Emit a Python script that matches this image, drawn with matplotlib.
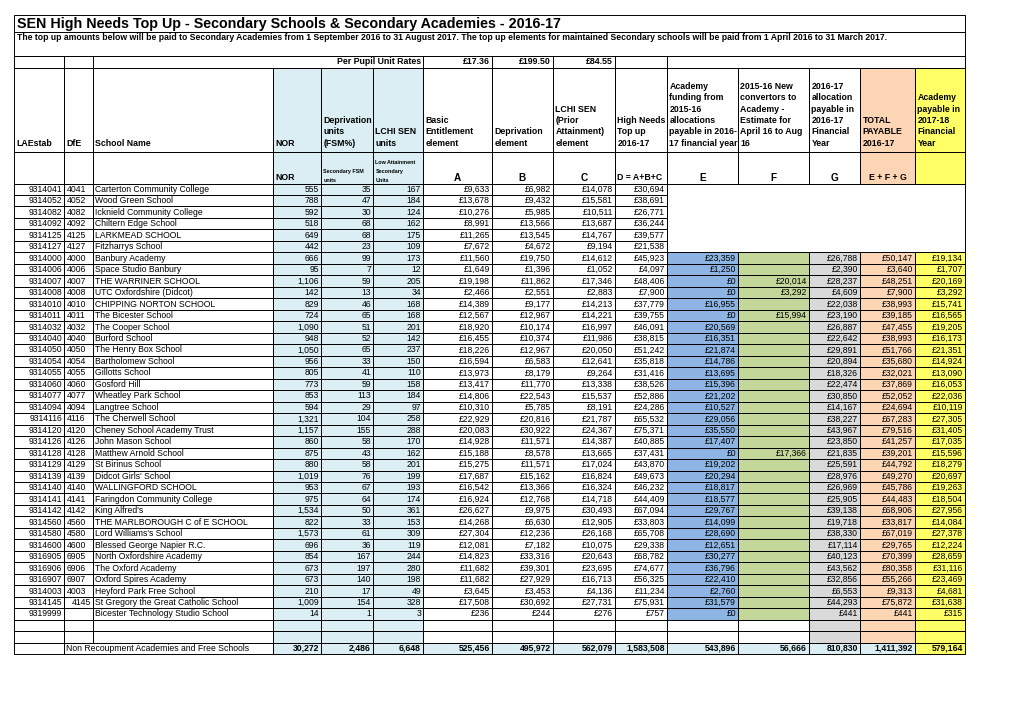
import matplotlib
matplotlib.use('Agg')
import matplotlib.pyplot as plt
from matplotlib.patches import Rectangle

plt.rcParams['font.family'] = ['Liberation Sans', 'DejaVu Sans']

title = "SEN High Needs Top Up - Secondary Schools & Secondary Academies - 2016-17"
subtitle = ("The top up amounts below will be paid to Secondary Academies from 1 September 2016 to 31 August 2017. "
            "The top up elements for maintained Secondary schools will be paid from 1 April 2016 to 31 March 2017.")

laestab = [9314041, 9314052, 9314082, 9314092, 9314125, 9314127, 9314000, 9314006, 9314007, 9314008,
           9314010, 9314011, 9314032, 9314040, 9314050, 9314054, 9314055, 9314060, 9314077, 9314094,
           9314116, 9314120, 9314126, 9314128, 9314129, 9314139, 9314140, 9314141, 9314142, 9314560,
           9314580, 9314600, 9316905, 9316906, 9316907, 9314003, 9314145, 9319999]
# text codes are left aligned in the sheet, the one stored as a number is right aligned
dfe = ['4041', '4052', '4082', '4092', '4125', '4127', '4000', '4006', '4007', '4008',
       '4010', '4011', '4032', '4040', '4050', '4054', '4055', '4060', '4077', '4094',
       '4116', '4120', '4126', '4128', '4129', '4139', '4140', '4141', '4142', '4560',
       '4580', '4600', '6905', '6906', '6907', '4003', 4145, '']
school = ["Carterton Community College", "Wood Green School", "Icknield Community College",
          "Chiltern Edge School", "LARKMEAD SCHOOL", "Fitzharrys School", "Banbury Academy",
          "Space Studio Banbury", "THE WARRINER SCHOOL", "UTC Oxfordshire (Didcot)",
          "CHIPPING NORTON SCHOOL", "The Bicester School", "The Cooper School", "Burford School",
          "The Henry Box School", "Bartholomew School", "Gillotts School", "Gosford Hill",
          "Wheatley Park School", "Langtree School", "The Cherwell School", "Cheney School Academy Trust",
          "John Mason School", "Matthew Arnold School", "St Birinus School", "Didcot Girls' School",
          "WALLINGFORD SCHOOL", "Faringdon Community College", "King Alfred's",
          "THE MARLBOROUGH C of E SCHOOL", "Lord Williams's School", "Blessed George Napier R.C.",
          "North Oxfordshire Academy", "The Oxford Academy", "Oxford Spires Academy",
          "Heyford Park Free School", "St Gregory the Great Catholic School",
          "Bicester Technology Studio School"]
nor = [555, 788, 592, 518, 649, 442, 666, 95, 1106, 142, 829, 724, 1090, 948, 1050, 956, 805, 773, 853,
       594, 1321, 1157, 860, 875, 880, 1019, 953, 975, 1534, 822, 1573, 696, 854, 673, 673, 210, 1009, 14]
fsm_units = [35, 47, 30, 68, 68, 23, 99, 7, 59, 13, 46, 65, 51, 52, 65, 33, 41, 59, 113, 29, 104, 155,
             58, 43, 58, 76, 67, 64, 50, 33, 61, 36, 167, 197, 140, 17, 154, 1]
lchi_units = [167, 184, 124, 162, 175, 109, 173, 12, 205, 34, 168, 168, 201, 142, 237, 150, 110, 158,
              184, 97, 258, 288, 170, 162, 201, 199, 193, 174, 361, 153, 309, 119, 244, 280, 198, 49, 328, 3]
basic_a = [9633, 13678, 10276, 8991, 11265, 7672, 11560, 1649, 19198, 2466, 14389, 12567, 18920, 16455,
           18226, 16594, 13973, 13417, 14806, 10310, 22929, 20083, 14928, 15188, 15275, 17687, 16542,
           16924, 26627, 14268, 27304, 12081, 14823, 11682, 11682, 3645, 17508, 236]
depriv_b = [6982, 9432, 5985, 13566, 13545, 4672, 19750, 1396, 11862, 2551, 9177, 12967, 10174, 10374,
            12967, 6583, 8179, 11770, 22543, 5785, 20816, 30922, 11571, 8578, 11571, 15162, 13366,
            12768, 9975, 6630, 12236, 7182, 33316, 39301, 27929, 3453, 30692, 244]
lchi_c = [14078, 15581, 10511, 13687, 14767, 9194, 14612, 1052, 17346, 2883, 14213, 14221, 16997, 11986,
          20050, 12641, 9264, 13338, 15537, 8191, 21787, 24367, 14387, 13665, 17024, 16824, 16324,
          14718, 30493, 12905, 26168, 10075, 20643, 23695, 16713, 4136, 27731, 276]
topup_d = [30694, 38691, 26771, 36244, 39577, 21538, 45923, 4097, 48406, 7900, 37779, 39755, 46091, 38815,
           51242, 35818, 31416, 38526, 52886, 24286, 65532, 75371, 40885, 37431, 43870, 49673, 46232,
           44409, 67094, 33803, 65708, 29338, 68782, 74677, 56325, 11234, 75931, 757]
acad_e = [None] * 6 + [23359, 1250, 0, 0, 16955, 0, 20569, 16351, 21874, 14786, 13695, 15396, 21202,
                       10527, 29056, 35550, 17407, 0, 19202, 20294, 18817, 18577, 29767, 14099, 28690,
                       12651, 30277, 36796, 22410, 2760, 31579, 0]
conv_f = [None] * 8 + [20014, 3292, None, 15994] + [None] * 11 + [17366] + [None] * 14
alloc_g = [None] * 6 + [26788, 2390, 28237, 4609, 22038, 23190, 26887, 22642, 29891, 20894, 18326, 22474,
                        30850, 14167, 38227, 43967, 23850, 21835, 25591, 28976, 26969, 25905, 39138,
                        19718, 38330, 17114, 40123, 43562, 32856, 6553, 44293, 441]
total_payable = [None] * 6 + [50147, 3640, 48251, 7900, 38993, 39185, 47455, 38993, 51766, 35680, 32021,
                              37869, 52052, 24694, 67283, 79516, 41257, 39201, 44792, 49270, 45786, 44483,
                              68906, 33817, 67019, 29765, 70399, 80358, 55266, 9313, 75872, 441]
acad_1718 = [None] * 6 + [19134, 1707, 20169, 3292, 15741, 16565, 19205, 16173, 21351, 14924, 13090,
                          16053, 22036, 10119, 27305, 31405, 17035, 15596, 18279, 20697, 19263, 18504,
                          27956, 14084, 27378, 12224, 28659, 31116, 23469, 4681, 31638, 315]
totals = [30272, 2486, 6648, 525456, 495972, 562079, 1583508, 543896, 56666, 810830, 1411392, 579164]
total_label = "Non Recoupment Academies and Free Schools"
unit_rates = ['£17.36', '£199.50', '£84.55']

headers = [["LAEstab"], ["DfE"], ["School Name"], ["NOR"], ["Deprivation", "units", "(FSM%)"],
           ["LCHI SEN", "units"], ["Basic", "Entitlement", "element"], ["Deprivation", "element"],
           ["LCHI SEN", "(Prior", "Attainment)", "element"], ["High Needs", "Top up", "2016-17"],
           ["Academy", "funding from", "2015-16", "allocations", "payable in 2016-", "17 financial year"],
           ["2015-16 New", "convertors to", "Academy -", "Estimate for", "April 16 to Aug", "16"],
           ["2016-17", "allocation", "payable in", "2016-17", "Financial", "Year"],
           ["TOTAL", "PAYABLE", "2016-17"], ["Academy", "payable in", "2017-18", "Financial", "Year"]]
sub_headers = ["", "", "", "NOR", "", "", "A", "B", "C", "D = A+B+C", "E", "F", "G", "E + F + G", ""]

# layout (pixels)
xs = [14, 64, 93, 273, 321, 373, 423, 492, 553, 615, 667, 738, 809, 860, 915, 965]
rh = 11.48
y_data = 183.5
LB, BLUE, GREEN, GREY, PEACH, YEL = '#DAEEF3', '#8DB4E2', '#C4D79B', '#D9D9D9', '#FCD5B4', '#FFFF66'
FS = 6.2
HFS = 6.3

fig = plt.figure(figsize=(10.2, 7.21), dpi=100)
ax = fig.add_axes([0, 0, 1, 1])
ax.set_xlim(0, 1020)
ax.set_ylim(721, 0)
ax.axis('off')


def cell(c0, c1, y0, y1, fc='white'):
    ax.add_patch(Rectangle((xs[c0], y0), xs[c1] - xs[c0], y1 - y0, facecolor=fc,
                           edgecolor='black', lw=0.7))


def txt(c, y, s, ha='right', **kw):
    if ha == 'right':
        x = xs[c + 1] - 2
    elif ha == 'left':
        x = xs[c] + 2.5
    else:
        x = (xs[c] + xs[c + 1]) / 2
    ax.text(x, y, s, ha=ha, va='center', fontsize=kw.pop('fontsize', FS), **kw)


def money(v):
    return '' if v is None else '£{:,}'.format(v)


# title block
ax.add_patch(Rectangle((14, 15), 951, 17.3, facecolor='white', edgecolor='black', lw=0.7))
ax.add_patch(Rectangle((14, 32.3), 951, 23.7, facecolor='white', edgecolor='black', lw=0.7))
ax.text(17, 24.2, title, fontsize=10.3, fontweight='bold', va='center')
ax.text(17, 37.5, subtitle, fontsize=6.25, fontweight='bold', va='center')

# unit rate row
y0, y1 = 56, 68
for c0, c1 in [(0, 1), (1, 2), (2, 6), (6, 7), (7, 8), (8, 9), (9, 10), (10, 15)]:
    cell(c0, c1, y0, y1)
ax.text(xs[6] - 2, 62, "Per Pupil Unit Rates", ha='right', va='center', fontsize=HFS, fontweight='bold')
for k, r in enumerate(unit_rates):
    txt(6 + k, 62, r, fontsize=HFS, fontweight='bold')

col_fill = ['white'] * 3 + [LB] * 3 + ['white'] * 4 + [BLUE, GREEN, GREY, PEACH, YEL]
head_fill = ['white'] * 3 + [LB] * 3 + ['white'] * 7 + [PEACH, YEL]

# header rows
for c in range(15):
    cell(c, c + 1, 68, 152, head_fill[c])
    cell(c, c + 1, 152, y_data, head_fill[c])
    lines = headers[c]
    for k, line in enumerate(reversed(lines)):
        txt(c, 143.3 - k * 11.35, line, ha='left', fontsize=HFS, fontweight='bold')
    s = sub_headers[c]
    if s:
        if c in (3, 9):
            txt(c, 178, s, ha='left', fontsize=HFS, fontweight='bold')
        else:
            txt(c, 178, s, ha='center', fontsize=7.2 if len(s) == 1 else HFS, fontweight='bold')
for k, line in enumerate(reversed(["Secondary FSM", "units"])):
    txt(4, 180 - k * 8.6, line, ha='left', fontsize=3.9, fontweight='bold')
for k, line in enumerate(reversed(["Low Attainment", "Secondary", "Units"])):
    txt(5, 180 - k * 8.6, line, ha='left', fontsize=3.9, fontweight='bold')

# data rows
n = len(school)
for i in range(n):
    t = y_data + i * rh
    yc = t + rh / 2
    last = 15 if acad_e[i] is not None else 10
    for c in range(last):
        cell(c, c + 1, t, t + rh, col_fill[c])
    vals = [str(laestab[i]), dfe[i], school[i], f'{nor[i]:,}', f'{fsm_units[i]:,}', f'{lchi_units[i]:,}',
            money(basic_a[i]), money(depriv_b[i]), money(lchi_c[i]), money(topup_d[i]),
            money(acad_e[i]), money(conv_f[i]), money(alloc_g[i]), money(total_payable[i]),
            money(acad_1718[i])]
    for c, v in enumerate(vals[:last]):
        if c == 1:
            txt(c, yc, str(v), ha='right' if isinstance(v, int) else 'left')
        elif c == 2:
            txt(c, yc, v, ha='left')
        else:
            txt(c, yc, v)

# blank block beside maintained schools
n_maint = sum(v is None for v in acad_e)
cell(10, 15, y_data, y_data + n_maint * rh)

# two empty rows
blank_fill = ['white'] * 3 + [LB] * 3 + ['white'] * 6 + [GREY, PEACH, YEL]
for j in range(2):
    t = y_data + (n + j) * rh
    for c in range(15):
        cell(c, c + 1, t, t + rh, blank_fill[c])

# totals row
t = y_data + (n + 2) * rh
yc = t + rh / 2
cell(0, 1, t, t + rh)
cell(1, 3, t, t + rh)
ax.text(xs[1] + 2.5, yc, total_label, ha='left', va='center', fontsize=FS)
for k, v in enumerate(totals):
    c = 3 + k
    cell(c, c + 1, t, t + rh, YEL if c == 14 else LB)
    txt(c, yc, f'{v:,}', fontweight='bold')

fig.savefig('out.png', dpi=100)
